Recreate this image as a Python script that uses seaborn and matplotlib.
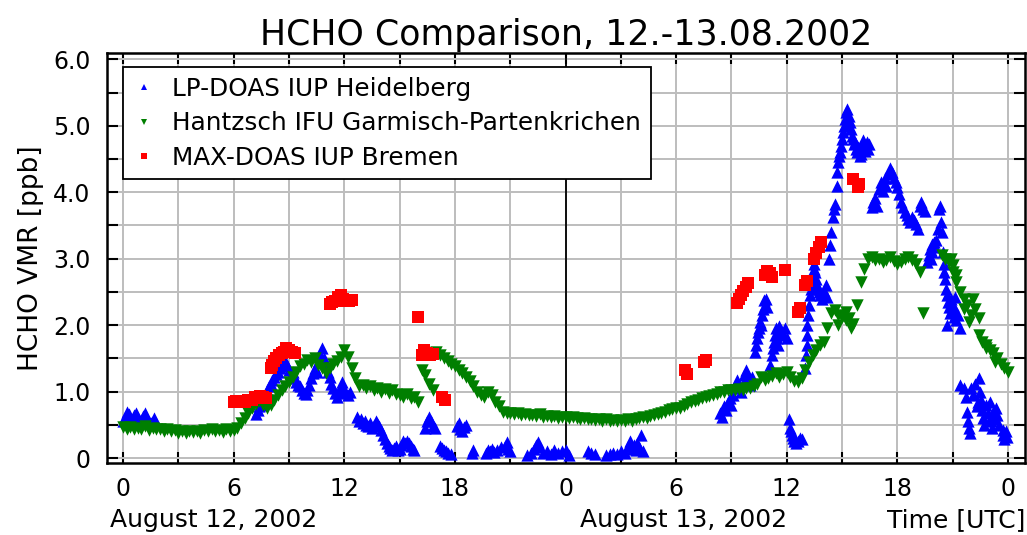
import numpy as np
import pandas as pd
import matplotlib
matplotlib.use("Agg")
import matplotlib.pyplot as plt
import seaborn as sns
from matplotlib.lines import Line2D

# ---------------- data ----------------
TITLE = "HCHO Comparison, 12.-13.08.2002"
YLABEL = "HCHO VMR [ppb]"
SERIES = ["LP-DOAS IUP Heidelberg", "Hantzsch IFU Garmisch-Partenkrichen", "MAX-DOAS IUP Bremen"]
XTICK_POS = [0, 6, 12, 18, 24, 30, 36, 42, 48]
XTICK_LABELS = ["0", "6", "12", "18", "0", "6", "12", "18", "0"]
YTICK_POS = [0, 1, 2, 3, 4, 5, 6]
YTICK_LABELS = ["0", "1.0", "2.0", "3.0", "4.0", "5.0", "6.0"]
DAY_LABELS = ["August 12, 2002", "August 13, 2002"]
XUNIT = "Time [UTC]"

# Hantzsch: regular sampling every 0.2 h from 0 h (5 values per hour per row)
green_dt = 0.2
green_v = [
    0.47, 0.44, 0.46, 0.43, 0.45,   # 0 h
    0.44, 0.48, 0.42, 0.45, 0.43,   # 1
    0.44, 0.41, 0.43, 0.40, 0.42,   # 2
    0.38, 0.40, 0.37, 0.40, 0.39,   # 3
    0.41, 0.38, 0.42, 0.40, 0.43,   # 4
    0.40, 0.42, 0.39, 0.43, 0.41,   # 5
    0.42, 0.45, 0.52, 0.60, 0.68,   # 6
    0.75, 0.82, 0.86, 0.80, 0.76,   # 7
    0.80, 0.88, 0.95, 1.02, 1.08,   # 8
    1.15, 1.22, 1.30, 1.38, 1.42,   # 9
    1.48, 1.44, 1.50, 1.40, 1.35,   # 10
    1.28, 1.35, 1.42, 1.46, 1.52,   # 11
    1.62, 1.52, 1.35, 1.20, 1.08,   # 12
    1.10, 1.05, 1.08, 1.02, 1.06,   # 13
    1.00, 1.04, 0.98, 1.02, 0.96,   # 14
    0.95, 0.92, 0.96, 0.90, 0.92,   # 15
    0.85, 1.33, 1.25, 1.12, 1.02,   # 16
    1.60, 1.55, 1.50, 1.46, 1.42,   # 17
    1.38, 1.33, 1.28, 1.22, 1.16,   # 18
    1.08, 1.00, 0.95, 0.92, 1.00,   # 19
    0.95, 0.85, 0.78, 0.70, 0.68,   # 20
    0.67, 0.66, 0.68, 0.65, 0.66,   # 21
    0.64, 0.65, 0.63, 0.66, 0.62,   # 22
    0.63, 0.61, 0.63, 0.60, 0.62,   # 23
    0.61, 0.60, 0.62, 0.60, 0.59,   # 24
    0.60, 0.58, 0.59, 0.57, 0.58,   # 25
    0.56, 0.58, 0.55, 0.57, 0.56,   # 26
    0.57, 0.55, 0.58, 0.56, 0.59,   # 27
    0.60, 0.62, 0.60, 0.63, 0.65,   # 28
    0.66, 0.68, 0.70, 0.72, 0.74,   # 29
    0.76, 0.75, 0.78, 0.82, 0.84,   # 30
    0.86, 0.88, 0.90, 0.92, 0.94,   # 31
    0.95, 0.97, 0.99, 1.00, 1.02,   # 32
    1.03, 1.02, 1.04, 1.03, 1.05,   # 33
    1.05, 1.08, 1.12, 1.22, 1.18,   # 34
    1.20, 1.24, 1.28, 1.22, 1.26,   # 35
    1.30, 1.22, 1.16, 1.14, 1.20,   # 36
    1.32, 1.45, 1.55, 1.62, 1.70,   # 37
    1.75, 1.95, 2.18, 2.22, 2.15,   # 38
    2.12, 2.08, 2.10, 2.02, 2.30,   # 39
    2.65, 2.85, 3.00, 3.02, 2.98,   # 40
    3.00, 2.95, 2.98, 3.02, 2.96,   # 41
    2.92, 2.95, 3.00, 3.03, 2.98,   # 42
    2.92, 2.80, 2.18, np.nan, np.nan,  # 43
    np.nan, np.nan, 3.05, 3.00, 2.95,  # 44
    2.80, 2.65, 2.50, 2.40, 2.30,   # 45
    2.15, 2.25, 1.85, 1.75, 1.70,   # 46
    1.62, 1.58, 1.50, 1.42, 1.35,   # 47
    1.30,                           # 48
]
green_extra_t = [38.8, 39.2, 39.5, 44.9, 45.0, 45.2, 45.6, 45.9, 46.1, 46.4, 46.8, 47.3]
green_extra_v = [2.00, 2.20, 1.95, 3.00, 2.90, 2.75, 2.25, 2.05, 2.40, 2.10, 1.65, 1.45]

# LP-DOAS
blue_t = [
    0.0, 0.1, 0.2, 0.3, 0.4, 0.5, 0.6, 0.7, 0.8, 0.9, 1.0, 1.1, 1.2, 1.3, 1.4, 1.5, 1.6, 1.7, 1.8,
    7.2, 7.3, 7.4, 7.5, 7.6, 7.7, 7.8, 7.9, 8.0, 8.1, 8.2, 8.3, 8.4, 8.5, 8.6, 8.7, 8.8, 8.9, 9.0,
    9.1, 9.2, 9.3, 9.4, 9.5, 9.6, 9.7, 9.8, 9.9, 10.0, 10.1, 10.2, 10.3, 10.4, 10.5, 10.6, 10.7,
    10.8, 10.9, 11.0, 11.1, 11.2, 11.3, 11.4, 11.5, 11.6, 11.7, 11.8, 11.9, 12.0, 12.1, 12.2, 12.3,
    12.7, 12.8, 12.9, 13.0, 13.1, 13.2, 13.3, 13.4, 13.5, 13.6, 13.7, 13.8, 13.9, 14.0, 14.1, 14.2,
    14.3, 14.4, 14.5, 14.6, 14.7, 14.8, 14.9, 15.0, 15.1, 15.2, 15.3, 15.4, 15.5, 15.6, 15.7, 15.8,
    16.4, 16.5, 16.6, 16.7, 16.8, 16.9, 17.2, 17.3, 17.4, 17.5, 17.6,
    17.8, 18.1, 18.2, 18.3, 18.4, 18.5, 18.6, 18.9, 19.0, 19.7, 19.8, 19.9, 20.0, 20.1, 20.3, 20.5,
    20.7, 20.8, 20.9, 21.0, 21.9, 22.1, 22.3, 22.4, 22.5, 22.6, 22.8, 23.0, 23.2, 23.4, 23.6, 23.8,
    24.0, 24.2, 25.2, 25.4, 25.6, 26.2, 26.4, 26.6, 26.8, 27.0, 27.2, 27.4, 27.5, 27.6, 27.7, 27.8,
    27.9, 28.0, 28.1, 28.2,
    32.4, 32.5, 32.6, 32.7, 32.8, 32.9, 33.0, 33.1, 33.2, 33.3, 33.4, 33.5, 33.6, 33.7, 33.8, 33.9,
    34.0, 34.1,
    34.3, 34.35, 34.4, 34.45, 34.5, 34.55, 34.6, 34.65, 34.7, 34.75, 34.8, 34.85, 34.9,
    35.1, 35.2, 35.25, 35.3, 35.35, 35.4, 35.45, 35.5, 35.55, 35.6, 35.7, 35.8, 35.9, 36.0,
    36.1, 36.2, 36.25, 36.3, 36.35, 36.4, 36.45, 36.5, 36.6, 36.7, 36.8,
    37.0, 37.05, 37.08, 37.1, 37.12, 37.15, 37.2, 37.25, 37.3, 37.35, 37.4, 37.45, 37.5, 37.55,
    37.6, 37.65, 37.7, 37.75, 37.8, 37.9, 38.0, 38.1, 38.2,
    38.3, 38.35, 38.4, 38.5, 38.55, 38.6, 38.7, 38.75, 38.8, 38.85, 38.9, 38.95, 39.0, 39.05,
    39.1, 39.15, 39.2, 39.25, 39.3, 39.35, 39.4, 39.45, 39.5, 39.55, 39.6, 39.65, 39.7, 39.75,
    39.8, 39.85, 39.9, 39.95, 40.0, 40.05, 40.1, 40.15, 40.2, 40.25, 40.3, 40.35, 40.4, 40.45,
    40.6, 40.7, 40.8, 40.9, 41.0, 41.1, 41.2, 41.3, 41.4, 41.5, 41.6, 41.7, 41.8, 41.9, 42.0,
    42.1, 42.2, 42.3, 42.4, 42.5, 42.6, 42.7, 42.8, 42.9, 43.0, 43.1, 43.2, 43.3, 43.4, 43.5,
    43.6, 43.7, 43.75, 43.8, 43.85, 43.9, 44.0, 44.05, 44.1, 44.2, 44.25, 44.3, 44.35, 44.4,
    44.45, 44.5, 44.55, 44.6, 44.65, 44.7, 44.75, 44.8, 44.85, 44.9, 44.95, 45.0, 45.05, 45.1,
    45.15, 45.2, 45.3, 45.4, 44.7,
    45.4, 45.6, 45.7, 45.8, 45.85, 45.9, 45.95, 46.0, 46.1, 46.2, 46.3, 46.35, 46.4, 46.5, 46.55,
    46.6, 46.65, 46.7, 46.8, 46.9, 47.0, 47.05, 47.1, 47.15, 47.2, 47.3, 47.35, 47.4, 47.5, 47.7,
    47.75, 47.8, 47.9, 47.95,
]
blue_v = [
    0.55, 0.62, 0.70, 0.66, 0.58, 0.56, 0.64, 0.68, 0.60, 0.55, 0.57, 0.63, 0.67, 0.59, 0.54, 0.52, 0.56, 0.60, 0.53,
    0.66, 0.72, 0.78, 0.80, 0.85, 0.95, 1.02, 1.08, 1.12, 1.18, 1.22, 1.26, 1.30, 1.35, 1.38, 1.42, 1.46, 1.40, 1.33,
    1.25, 1.30, 1.20, 1.15, 1.10, 1.08, 1.02, 0.98, 0.96, 1.02, 1.10, 1.20, 1.28, 1.35, 1.30, 1.45, 1.55,
    1.65, 1.50, 1.42, 1.30, 1.22, 1.12, 1.05, 0.98, 0.92, 1.00, 1.08, 1.15, 1.02, 0.98, 0.95, 1.00,
    0.62, 0.55, 0.58, 0.52, 0.56, 0.50, 0.48, 0.52, 0.45, 0.50, 0.55, 0.52, 0.48, 0.42, 0.35, 0.28,
    0.22, 0.18, 0.15, 0.12, 0.15, 0.18, 0.12, 0.14, 0.20, 0.25, 0.22, 0.26, 0.22, 0.18, 0.14, 0.12,
    0.45, 0.55, 0.62, 0.55, 0.48, 0.45, 0.18, 0.15, 0.12, 0.10, 0.08,
    0.06, 0.48, 0.52, 0.44, 0.40, 0.46, 0.50, 0.08, 0.12, 0.08, 0.12, 0.10, 0.14, 0.09, 0.12, 0.16,
    0.18, 0.24, 0.14, 0.10, 0.05, 0.08, 0.14, 0.20, 0.24, 0.16, 0.08, 0.10, 0.06, 0.12, 0.08, 0.10,
    0.12, 0.04, 0.10, 0.08, 0.06, 0.04, 0.06, 0.08, 0.06, 0.10, 0.08, 0.18, 0.25, 0.14, 0.20, 0.12,
    0.22, 0.16, 0.34, 0.10,
    0.68, 0.62, 0.78, 0.72, 0.85, 0.90, 0.80, 0.95, 1.10, 1.18, 1.05, 1.00, 1.12, 1.25, 1.33, 1.20,
    1.10, 1.22,
    1.60, 1.70, 1.80, 1.90, 1.95, 2.05, 2.00, 2.15, 2.25, 2.38, 2.30, 2.40, 2.28,
    1.40, 1.55, 1.65, 1.75, 1.85, 1.95, 1.80, 1.90, 1.70, 1.98, 1.92, 1.85, 1.95, 1.80,
    0.58, 0.45, 0.40, 0.35, 0.30, 0.25, 0.28, 0.22, 0.25, 0.30, 0.28,
    1.35, 1.55, 1.70, 1.85, 2.00, 2.15, 2.30, 2.45, 2.55, 2.62, 2.75, 2.85, 2.92, 2.80,
    2.70, 2.60, 2.55, 2.50, 2.45, 2.40, 2.52, 2.60, 2.42,
    3.00, 3.20, 3.40, 3.62, 3.75, 3.82, 4.10, 4.30, 4.45, 4.55, 4.60, 4.70, 4.80, 4.90,
    5.00, 5.10, 5.20, 5.25, 5.10, 5.00, 5.15, 5.05, 4.95, 4.85, 4.80, 4.72, 4.75, 4.65,
    4.60, 4.68, 4.62, 4.55, 4.58, 4.65, 4.72, 4.78, 4.70, 4.62, 4.68, 4.75, 4.65, 4.72,
    3.78, 3.85, 3.92, 3.80, 4.05, 4.15, 4.02, 4.22, 4.10, 4.28, 4.36, 4.30, 4.22, 4.15, 4.08,
    3.98, 3.85, 3.78, 3.70, 3.65, 3.60, 3.55, 3.62, 3.58, 3.52, 3.45, 3.80, 3.85, 3.75, 3.72,
    2.95, 3.05, 3.15, 3.00, 3.22, 3.10, 3.25, 3.18, 3.28, 3.45, 3.75, 3.80, 3.55, 3.40,
    3.10, 2.92, 2.80, 2.70, 2.55, 2.45, 2.35, 2.28, 2.18, 2.40, 2.25, 2.30, 2.12, 2.42,
    2.20, 2.08, 2.15, 1.95, 2.00,
    1.10, 1.05, 0.92, 0.70, 0.55, 0.45, 0.38, 1.05, 0.95, 1.12, 0.78, 0.85, 1.20, 1.00, 0.88,
    0.72, 0.60, 0.50, 0.80, 0.68, 0.85, 0.62, 0.55, 0.45, 0.70, 0.58, 0.75, 0.65, 0.50, 0.42,
    0.35, 0.28, 0.40, 0.32,
]

# MAX-DOAS
red_t = [
    6.0, 6.15, 6.3, 6.45, 6.6, 6.8, 7.0, 7.15, 7.3, 7.45, 7.6, 7.75,
    8.0, 8.1, 8.2, 8.3, 8.45, 8.6, 8.75, 8.85, 9.0, 9.15, 9.3,
    11.2, 11.35, 11.5, 11.65, 11.8, 11.95, 12.1, 12.25, 12.4,
    16.0, 16.2, 16.35, 16.5, 16.65, 16.8, 17.3, 17.45,
    30.5, 30.6, 31.5, 31.6,
    33.3, 33.4, 33.5, 33.65, 33.8, 33.9, 34.8, 34.95, 35.1, 35.2, 35.9,
    36.6, 36.7, 37.0, 37.1, 37.5, 37.6, 37.75, 37.85, 39.6, 39.85, 39.9,
]
red_v = [
    0.85, 0.86, 0.84, 0.86, 0.85, 0.87, 0.88, 0.92, 0.90, 0.94, 0.92, 0.90,
    1.36, 1.40, 1.46, 1.50, 1.55, 1.58, 1.60, 1.65, 1.62, 1.60, 1.58,
    2.32, 2.35, 2.36, 2.42, 2.45, 2.40, 2.37, 2.36, 2.38,
    2.12, 1.55, 1.62, 1.58, 1.55, 1.57, 0.92, 0.87,
    1.32, 1.27, 1.44, 1.47,
    2.33, 2.40, 2.45, 2.52, 2.58, 2.63, 2.75, 2.82, 2.78, 2.72, 2.83,
    2.20, 2.26, 2.60, 2.66, 3.00, 3.08, 3.18, 3.25, 4.20, 4.08, 4.12,
]

# ---------------- frames ----------------
green_t = np.round(np.arange(len(green_v)) * green_dt, 2)
df_blue = pd.DataFrame({"t": blue_t, "v": blue_v, "s": SERIES[0]})
df_green = pd.DataFrame({"t": list(green_t) + green_extra_t,
                         "v": list(green_v) + green_extra_v, "s": SERIES[1]}).dropna()
df_red = pd.DataFrame({"t": red_t, "v": red_v, "s": SERIES[2]})

COLORS = {SERIES[0]: "#0000ff", SERIES[1]: "#007f00", SERIES[2]: "#ff0000"}
MARKERS = {SERIES[0]: "^", SERIES[1]: "v", SERIES[2]: "s"}

# ---------------- style ----------------
sns.set_theme(style="ticks")
plt.rcParams["font.family"] = ["DejaVu Sans"]
plt.rcParams["axes.linewidth"] = 1.5
for k in ("text.color", "axes.labelcolor", "xtick.color", "ytick.color", "axes.edgecolor"):
    plt.rcParams[k] = "black"

fig = plt.figure(figsize=(10.27, 5.35), dpi=100)
ax = fig.add_axes([107 / 1027, 72 / 535, 918 / 1027, 410 / 535])

for df, size in ((df_blue, 78), (df_green, 80), (df_red, 70)):
    name = df["s"].iloc[0]
    sns.scatterplot(data=df, x="t", y="v", ax=ax, color=COLORS[name],
                    marker=MARKERS[name], s=size, linewidth=0, legend=False, zorder=3)

ax.axvline(24, color="black", lw=1.3, zorder=2.5)

ax.set_xlim(-0.87, 48.92)
ax.set_ylim(-0.075, 6.095)
ax.set_xticks(XTICK_POS)
ax.set_xticklabels(XTICK_LABELS)
ax.set_xticks(np.arange(3, 48, 6), minor=True)
ax.set_yticks(YTICK_POS)
ax.set_yticklabels(YTICK_LABELS)
ax.set_yticks(np.arange(0.5, 6, 1.0), minor=True)
ax.tick_params(which="both", direction="in", length=8, width=1.5, top=True, right=True,
               color="black")
ax.tick_params(axis="x", which="major", labelsize=17, pad=10)
ax.tick_params(axis="y", which="major", labelsize=17, pad=12)
ax.grid(True, which="both", color="#bdbdbd", lw=1.4, zorder=0)
ax.set_axisbelow(True)
ax.set_xlabel("")
ax.set_ylabel(YLABEL, fontsize=19, labelpad=6)
ax.set_title(TITLE, fontsize=25, pad=6)
for sp in ax.spines.values():
    sp.set_color("black")
    sp.set_linewidth(1.8)

fig.text(110 / 1027, 15 / 535, DAY_LABELS[0], fontsize=18, ha="left", va="center")
fig.text(580 / 1027, 15 / 535, DAY_LABELS[1], fontsize=18, ha="left", va="center")
fig.text(1025 / 1027, 15 / 535, XUNIT, fontsize=18, ha="right", va="center")

handles = [Line2D([], [], ls="none", marker=MARKERS[n], color=COLORS[n], markersize=5,
                  markeredgewidth=0) for n in SERIES]
leg = ax.legend(handles, SERIES, loc="upper left", bbox_to_anchor=(0.0174, 0.966),
                borderaxespad=0, fontsize=17.8, frameon=True, fancybox=False,
                framealpha=1, edgecolor="black", handlelength=0.9, handletextpad=0.7,
                labelspacing=0.42, borderpad=0.4)
leg.get_frame().set_linewidth(1.3)
leg.set_zorder(5)

fig.savefig("out.png", dpi=100)
